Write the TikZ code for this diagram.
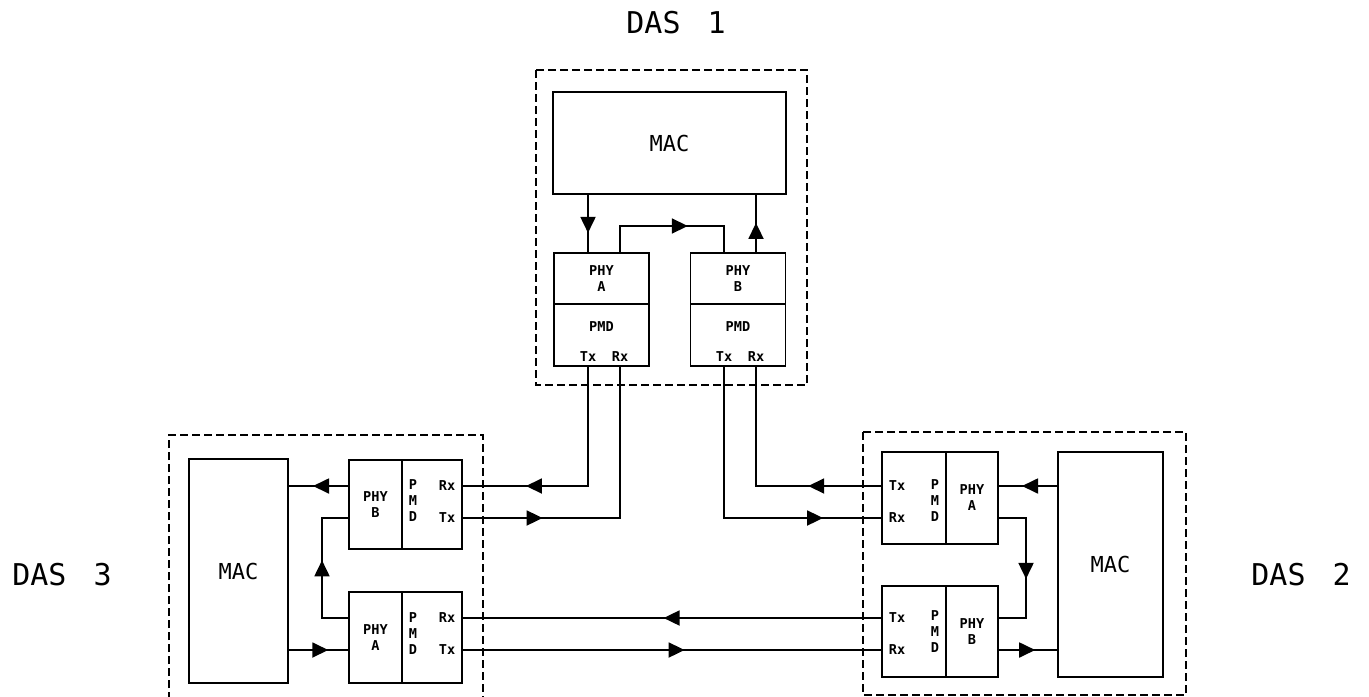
\documentclass[tikz,border=0pt]{standalone}
\usepackage{fontspec}
\newfontfamily\plotfont{DejaVu Sans Mono}
\usepackage{tikz}
\usetikzlibrary{arrows.meta,decorations.markings,positioning,calc}

\begin{document}
\begin{tikzpicture}[x=0.5pt,y=-0.5pt,>={Triangle[length=8pt,width=7.5pt]},
  box/.style={draw,line width=0.9pt,inner sep=0pt,outer sep=0pt,align=center,
    font=\plotfont\bfseries\fontsize{6.8}{8}\selectfont},
  sz/.style 2 args={minimum width=#1*0.5pt,minimum height=#2*0.5pt},
  lbl/.style={inner sep=0pt,align=center,font=\plotfont\bfseries\fontsize{6.8}{8}\selectfont},
  mactxt/.style={font=\plotfont\fontsize{11}{12}\selectfont},
  title/.style={inner sep=0pt,font=\plotfont\fontsize{15}{18}\selectfont},
  frame/.style={line width=0.9pt,dash pattern=on 4pt off 2pt},
  flow/.style={line width=0.9pt,postaction={decorate},
    decoration={markings,mark=at position #1 with {\arrow{>}}}}]
  \useasboundingbox (0,0) rectangle (1369,696);

  % DAS 1
  \node[title] (das1) at (676,23) {DAS\hspace{0.9em}1};
  \draw[frame] (536,70) rectangle (807,385);
  \node[box,sz={233}{102},mactxt] (mac1) at (669.5,143) {MAC};
  \node[box,sz={95}{51}] (phy1a) at (601.5,278.5) {PHY\\A};
  \node[box,sz={95}{62},below=0pt of phy1a] (pmd1a) {};
  \node[box,sz={95}{51}] (phy1b) at (738,278.5) {PHY\\B};
  \node[box,sz={95}{62},below=0pt of phy1b] (pmd1b) {};
  \node[lbl] at (601.5,327) {PMD};
  \node[lbl] at (738,327) {PMD};
  \node[lbl] (tx1a) at (588,357) {Tx};
  \node[lbl] (rx1a) at (620,357) {Rx};
  \node[lbl] (tx1b) at (724,357) {Tx};
  \node[lbl] (rx1b) at (756,357) {Rx};

  % DAS 3
  \node[title] (das3) at (62,575) {DAS\hspace{0.9em}3};
  \draw[frame] (169,700) |- (483,435) -- (483,700);
  \node[box,sz={99}{224},mactxt] (mac3) at (238.5,571) {MAC};
  \node[box,sz={53}{89}] (phy3b) at (375.5,504.5) {PHY\\B};
  \node[box,sz={60}{89},right=0pt of phy3b] (pmd3b) {};
  \node[box,sz={53}{91}] (phy3a) at (375.5,637.5) {PHY\\A};
  \node[box,sz={60}{91},right=0pt of phy3a] (pmd3a) {};
  \node[lbl] at (413,501) {P\\M\\D};
  \node[lbl] at (413,634) {P\\M\\D};
  \node[lbl] (rx3b) at (447,486) {Rx};
  \node[lbl] (tx3b) at (447,518) {Tx};
  \node[lbl] (rx3a) at (447,618) {Rx};
  \node[lbl] (tx3a) at (447,650) {Tx};

  % DAS 2
  \node[title] (das2) at (1301,575) {DAS\hspace{0.9em}2};
  \draw[frame] (863,432) rectangle (1186,695);
  \node[box,sz={105}{225},mactxt] (mac2) at (1110.5,564.5) {MAC};
  \node[box,sz={52}{92}] (phy2a) at (972,498) {PHY\\A};
  \node[box,sz={64}{92},left=0pt of phy2a] (pmd2a) {};
  \node[box,sz={52}{91}] (phy2b) at (972,631.5) {PHY\\B};
  \node[box,sz={64}{91},left=0pt of phy2b] (pmd2b) {};
  \node[lbl] at (935,501) {P\\M\\D};
  \node[lbl] at (935,632) {P\\M\\D};
  \node[lbl] (tx2a) at (897,486) {Tx};
  \node[lbl] (rx2a) at (897,518) {Rx};
  \node[lbl] (tx2b) at (897,618) {Tx};
  \node[lbl] (rx2b) at (897,650) {Rx};

  % inside the stations
  \draw[flow=0.66] (mac1.south -| tx1a) -- (phy1a.north -| tx1a);
  \draw[flow=0.6] (phy1a.north -| rx1a) -- ++(0,-27) -| (phy1b.north -| tx1b);
  \draw[flow=0.51] (phy1b.north -| rx1b) -- (mac1.south -| rx1b);
  \draw[flow=0.59] (rx3b -| phy3b.west) -- (rx3b -| mac3.east);
  \draw[flow=0.55] (rx3a -| phy3a.west) -- ++(-27,0) |- (tx3b -| phy3b.west);
  \draw[flow=0.66] (tx3a -| mac3.east) -- (tx3a -| phy3a.west);
  \draw[flow=0.6] (tx2a -| mac2.west) -- (tx2a -| phy2a.east);
  \draw[flow=0.57] (rx2a -| phy2a.east) -- ++(28,0) |- (tx2b -| phy2b.east);
  \draw[flow=0.62] (rx2b -| phy2b.east) -- (rx2b -| mac2.west);

  % the ring between them
  \draw[flow=0.74] (pmd1a.south -| tx1a) |- (rx3b -| pmd3b.east);
  \draw[flow=0.26] (tx3b -| pmd3b.east) -| (pmd1a.south -| rx1a);
  \draw[flow=0.81] (pmd1b.south -| tx1b) |- (rx2a -| pmd2a.west);
  \draw[flow=0.30] (tx2a -| pmd2a.west) -| (pmd1b.south -| rx1b);
  \draw[flow=0.52] (tx2b -| pmd2b.west) -- (rx3a -| pmd3a.east);
  \draw[flow=0.53] (tx3a -| pmd3a.east) -- (rx2b -| pmd2b.west);
\end{tikzpicture}
\end{document}
